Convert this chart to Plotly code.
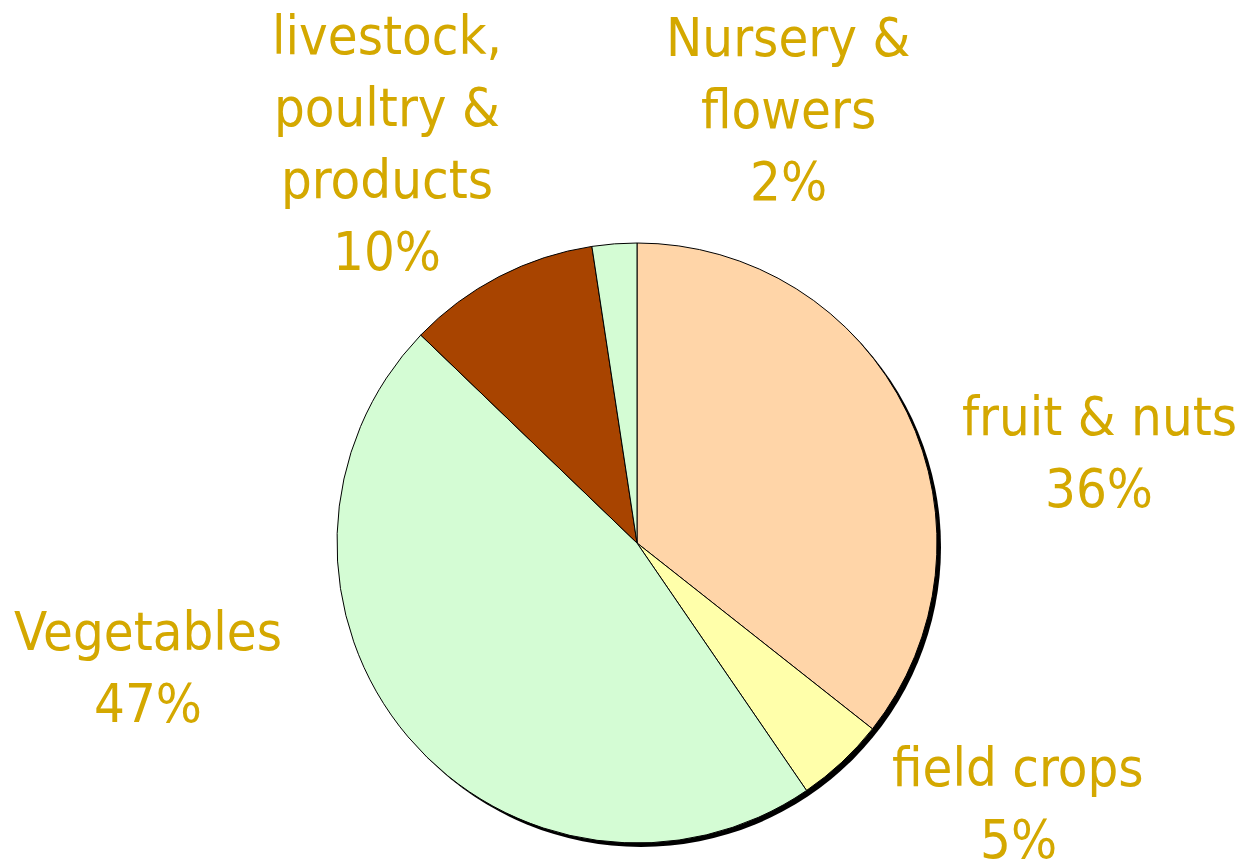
import plotly.graph_objects as go

# Data (shares, clockwise from 12 o'clock)
categories = ["fruit & nuts", "field crops", "Vegetables", "livestock, poultry & products", "Nursery & flowers"]
shares = [35.6, 4.8, 46.7, 10.4, 2.4]
slice_colors = ["#FFD5A8", "#FFFFAA", "#D4FCD4", "#A84400", "#D4FCD4"]

# label lines as shown in the chart (the last line is the percentage)
label_lines = [
    ["fruit & nuts"],
    ["field crops"],
    ["Vegetables"],
    ["livestock,", "poultry &", "products"],
    ["Nursery &", "flowers"],
]

W, H = 1247, 863
CX, CY, R = 637, 543, 300
FONT = "DejaVu Sans Condensed, Liberation Sans, sans-serif"
FS = 54
GOLD = "#D4A800"

# label anchor: (center x px, baseline of first line px)
label_pos = [
    (1099, 435),
    (1018, 786),
    (148, 650),
    (387, 54),
    (788, 56),
]
LINE_STEP = 72

total = sum(shares)
pcts = [f"{round(v / total * 100)}%" for v in shares]

fig = go.Figure()

# shadow pie (offset down/right)
off = 4
fig.add_trace(go.Pie(
    values=[1], marker=dict(colors=["#000000"], line=dict(width=0)),
    textinfo="none", hoverinfo="skip", sort=False, showlegend=False,
    domain=dict(x=[(CX - R + off) / W, (CX + R + off) / W],
                y=[1 - (CY + R + off) / H, 1 - (CY - R + off) / H]),
))

fig.add_trace(go.Pie(
    labels=categories, values=shares, sort=False, direction="clockwise", rotation=0,
    marker=dict(colors=slice_colors, line=dict(color="#000000", width=1)),
    textinfo="none", showlegend=False,
    domain=dict(x=[(CX - R) / W, (CX + R) / W],
                y=[1 - (CY + R) / H, 1 - (CY - R) / H]),
))

annotations = []
for lines, pct, (lx, by) in zip(label_lines, pcts, label_pos):
    for i, t in enumerate(lines + [pct]):
        base = by + i * LINE_STEP
        annotations.append(dict(
            text=t, x=lx / W, y=1 - (base - 0.346 * FS) / H,
            xref="paper", yref="paper", xanchor="center", yanchor="middle",
            showarrow=False, font=dict(family=FONT, size=FS, color=GOLD),
        ))

fig.update_layout(
    width=W, height=H, margin=dict(l=0, r=0, t=0, b=0),
    paper_bgcolor="white", plot_bgcolor="white",
    annotations=annotations,
)

fig.write_html(
    "out.html",
    config={"displayModeBar": False},
    post_script="document.body.style.margin='0';document.body.style.overflow='hidden';",
)
